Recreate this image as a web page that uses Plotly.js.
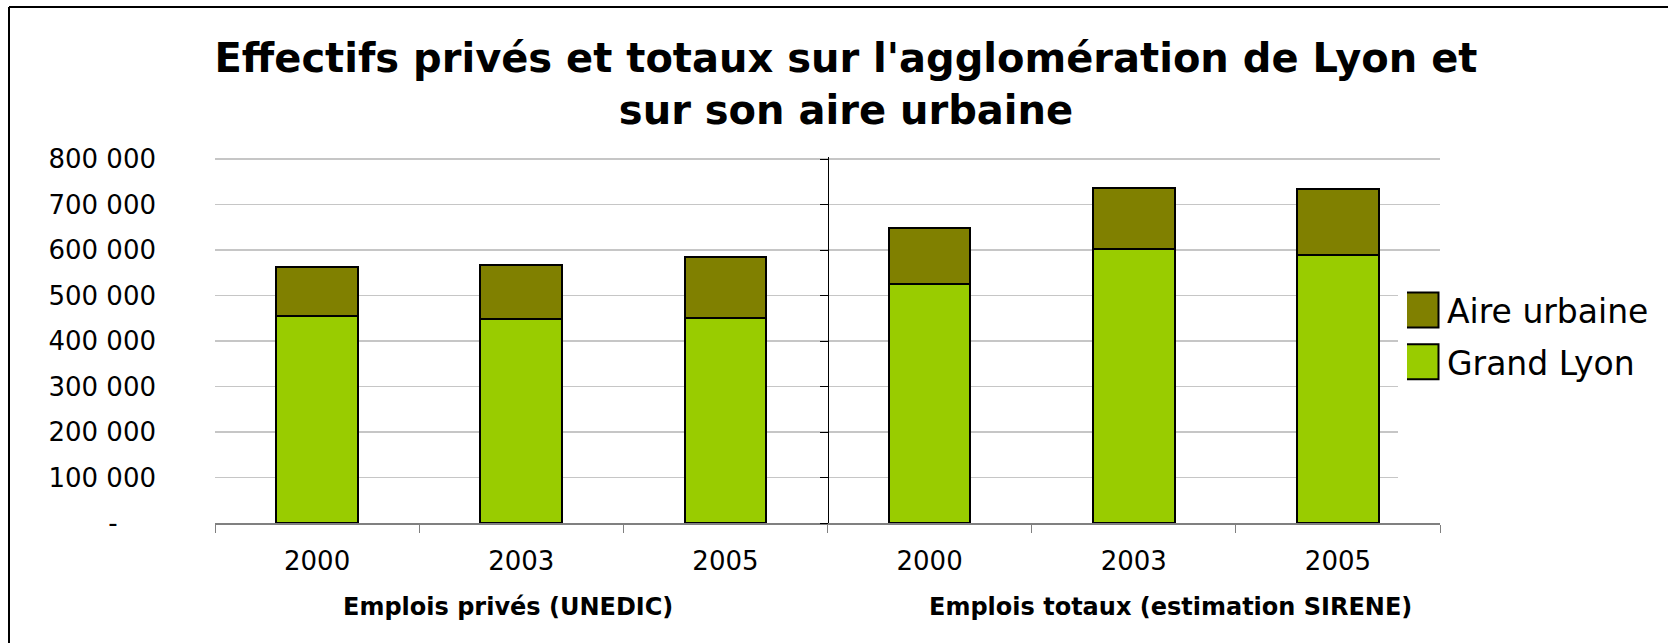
<!DOCTYPE html>
<html>
<head>
<meta charset="utf-8">
<script src="https://cdn.plot.ly/plotly-3.0.1.min.js"></script>
<style>html,body{margin:0;padding:0;background:#fff;}#chart{width:1668px;height:643px;}</style>
</head>
<body>
<div id="chart"></div>
<script>
// ---- data ----
const groupLabels = ["Emplois privés (UNEDIC)", "Emplois totaux (estimation SIRENE)"];
const years = ["2000", "2003", "2005", "2000", "2003", "2005"];
const grandLyon   = [454000, 448000, 450000, 525000, 602000, 590000];
const aireUrbaine = [108000, 120000, 134000, 123000, 134000, 143000];
const yTickVals = [0, 100000, 200000, 300000, 400000, 500000, 600000, 700000, 800000];
const yTickText = ["-\u00a0\u00a0\u00a0\u00a0\u2009", "100 000", "200 000", "300 000", "400 000", "500 000", "600 000", "700 000", "800 000"];

// category positions derived from the arrays
const xPos = years.map((_, i) => i);
const bounds = [-0.5].concat(xPos.map(i => i + 0.5));

// ---- layout helpers (pixel -> paper) ----
const W = 1668, H = 643;
const M = {l: 215, r: 228, t: 157, b: 120};
const pw = W - M.l - M.r, ph = H - M.t - M.b;
const px2x = p => (p - M.l) / pw;
const px2y = p => (H - M.b - p) / ph;
const FONT = "DejaVu Sans";
const YMAX = 804400;

const traces = [
  {type: "bar", name: "Grand Lyon", x: xPos, y: grandLyon, legendrank: 2, legendgroup: "gl",
   marker: {color: "#99cc00", line: {color: "#000000", width: 2}}, hoverinfo: "skip"},
  {type: "bar", name: "Aire urbaine", x: xPos, y: aireUrbaine, legendrank: 1, legendgroup: "au",
   marker: {color: "#808000", line: {color: "#000000", width: 2}}, hoverinfo: "skip"},
  {type: "scatter", x: [xPos[0]], y: [0], yaxis: "y2", mode: "markers",
   marker: {opacity: 0}, showlegend: false, hoverinfo: "skip"}
];

const layout = {
  width: W, height: H,
  margin: M,
  paper_bgcolor: "#ffffff", plot_bgcolor: "#ffffff",
  font: {family: FONT, color: "#000000"},
  barmode: "stack", bargap: 0.6,
  title: {text: "Effectifs privés et totaux sur l'agglomération de Lyon et<br>sur son aire urbaine",
          font: {family: FONT, size: 40, weight: 700, color: "#000"},
          xref: "paper", x: px2x(846), xanchor: "center",
          yref: "container", y: 1 - 72 / H, yanchor: "top"},
  xaxis: {range: [-0.5, years.length - 0.5], tickmode: "array", tickvals: xPos, ticktext: years,
          showline: true, linecolor: "#808080", linewidth: 2,
          ticks: "outside", ticklen: 8, tickcolor: "rgba(0,0,0,0)",
          minor: {tickmode: "array", tickvals: bounds, ticks: "outside", ticklen: 8, tickcolor: "#808080", tickwidth: 1, showgrid: false},
          showgrid: false, zeroline: false,
          tickfont: {family: FONT, size: 26, color: "#000"}, ticklabelstandoff: 6},
  yaxis: {range: [0, YMAX], tickvals: yTickVals, ticktext: yTickText,
          showgrid: true, gridcolor: "#c6c6c6", gridwidth: 1.5, zeroline: false, showline: false,
          ticks: "", tickfont: {family: FONT, size: 26, color: "#000"}, ticklabelstandoff: 58},
  yaxis2: {overlaying: "y", anchor: "free", position: 0.5, side: "left", range: [0, YMAX],
           tickvals: yTickVals, showticklabels: false, showgrid: false, zeroline: false,
           showline: true, linecolor: "#000", linewidth: 1, ticks: "outside", ticklen: 8, tickcolor: "#000"},
  legend: {x: px2x(1407), xanchor: "left", y: px2y(282), yanchor: "top",
           traceorder: "grouped", tracegroupgap: 6,
           font: {family: FONT, size: 33, color: "#000"}, bgcolor: "rgba(0,0,0,0)"},
  annotations: [
    {text: "<b>" + groupLabels[0] + "</b>", xref: "paper", yref: "paper", x: px2x(508), y: px2y(607),
     xanchor: "center", yanchor: "middle", showarrow: false, font: {family: FONT, size: 24, color: "#000"}},
    {text: "<b>" + groupLabels[1] + "</b>", xref: "paper", yref: "paper", x: px2x(1170), y: px2y(607),
     xanchor: "center", yanchor: "middle", showarrow: false, font: {family: FONT, size: 24, color: "#000"}}
  ],
  shapes: [
    {type: "rect", xref: "paper", yref: "paper", x0: px2x(1398), x1: px2x(1442), y0: px2y(500), y1: px2y(270),
     fillcolor: "#ffffff", line: {width: 0}, layer: "above"},
    {type: "line", xref: "paper", yref: "paper", x0: px2x(9), x1: px2x(9), y0: px2y(7), y1: px2y(660),
     line: {color: "#000", width: 2}},
    {type: "line", xref: "paper", yref: "paper", x0: px2x(9), x1: px2x(1680), y0: px2y(7), y1: px2y(7),
     line: {color: "#000", width: 2}}
  ]
};

Plotly.newPlot("chart", traces, layout, {staticPlot: true, displayModeBar: false}).then(() => {
  document.querySelectorAll(".legend .legendpoints path").forEach(p => {
    p.setAttribute("d", "M11.5,17.5H-23.5V-17.5H11.5Z");
    p.style.strokeWidth = "2px";
  });
});
</script>
</body>
</html>
